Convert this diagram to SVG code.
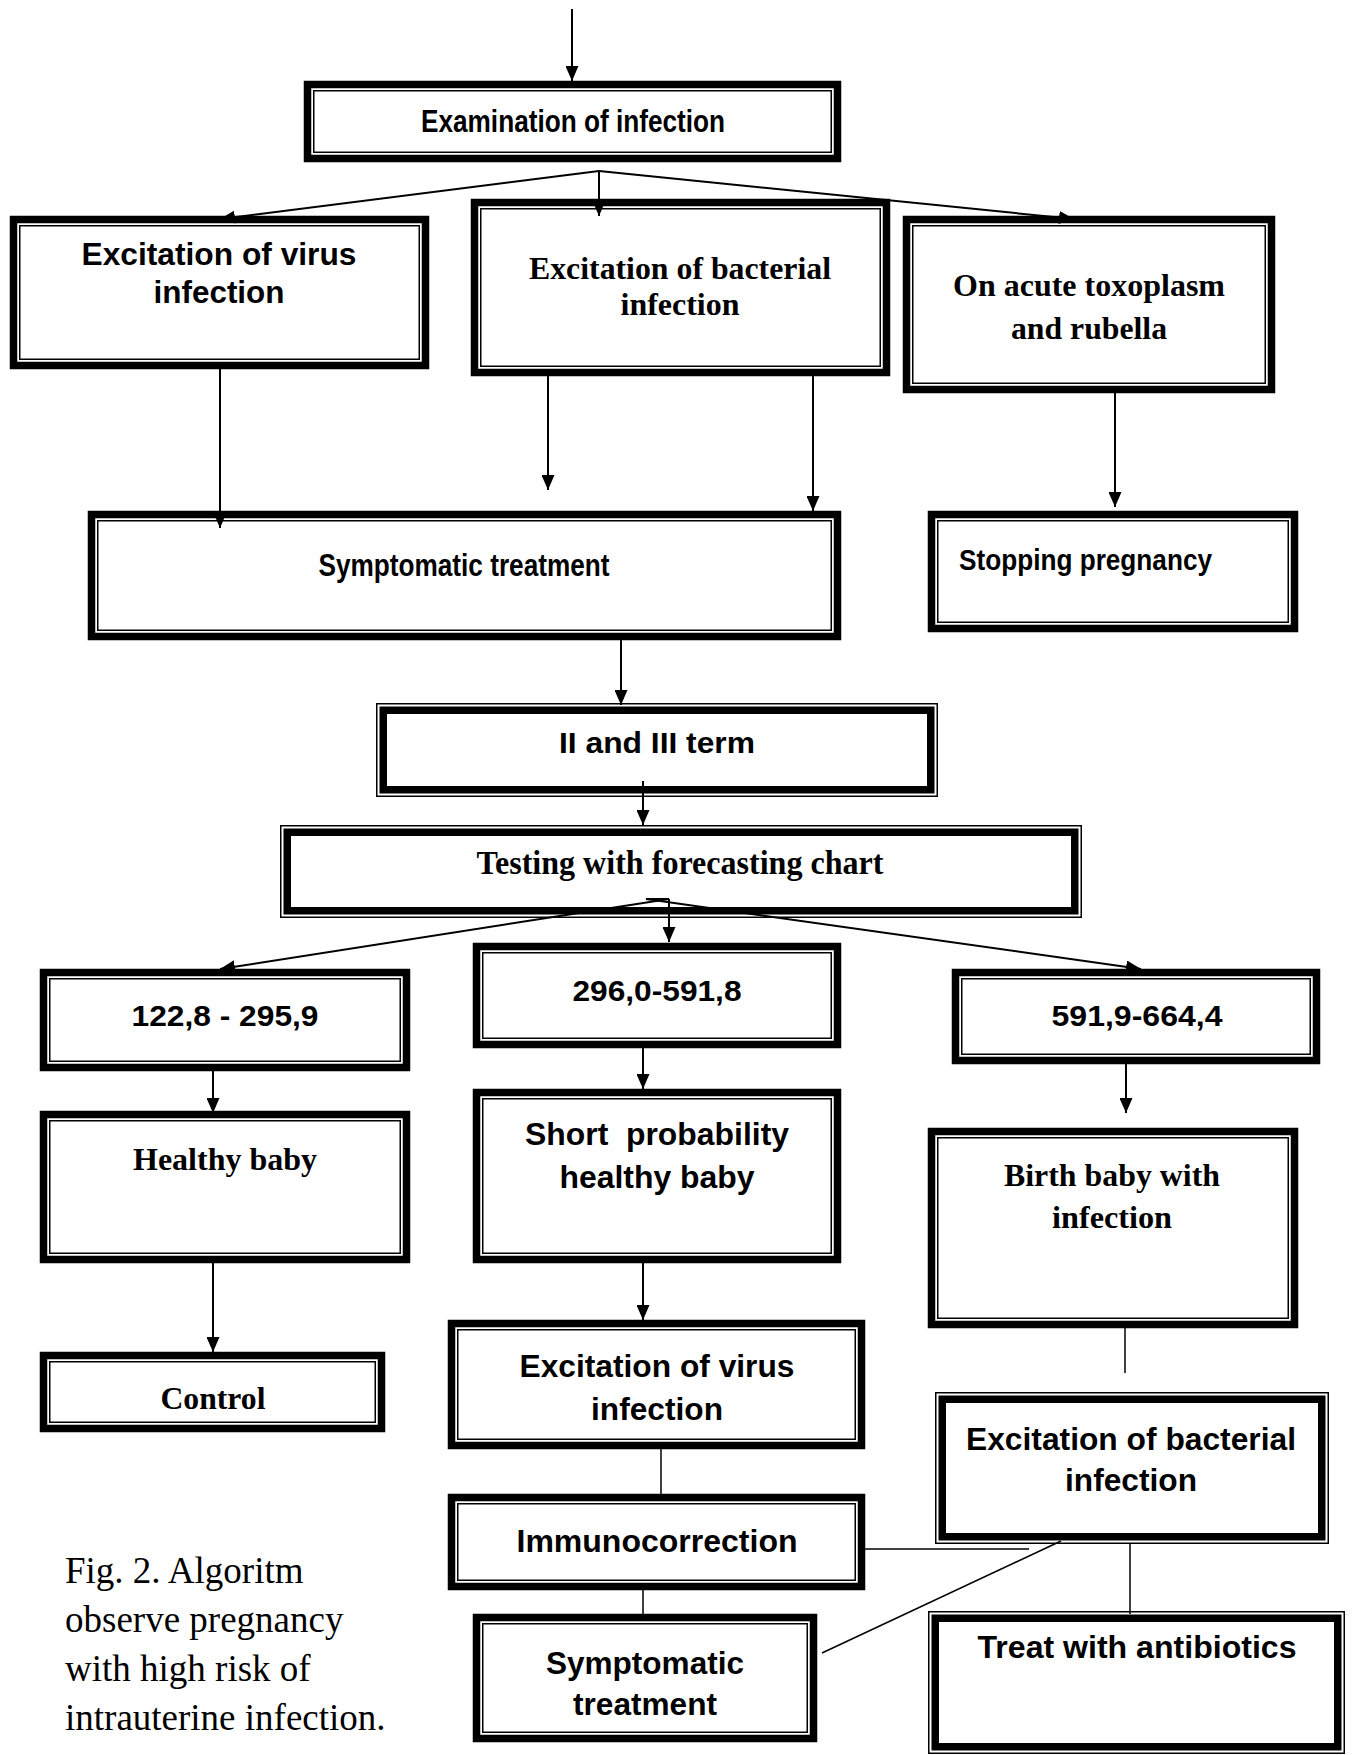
<svg xmlns="http://www.w3.org/2000/svg" width="1354" height="1755" viewBox="0 0 1354 1755">
<style>
.thk{fill:#fff;stroke:#000;stroke-width:7.5}
.thn{fill:none;stroke:#000;stroke-width:1.5}
.thnf{fill:#fff;stroke:#000;stroke-width:1.5}
.thk2{fill:none;stroke:#000;stroke-width:7.5}
.ss{font-family:"Liberation Sans",Arial,sans-serif;font-weight:bold;text-anchor:middle;fill:#000}
.sf{font-family:"Liberation Serif","Times New Roman",serif;font-weight:bold;text-anchor:middle;fill:#000}
.cap{font-family:"Liberation Serif","Times New Roman",serif;font-size:37px;fill:#000}
.arr{stroke:#000;stroke-width:2;fill:none;marker-end:url(#ah)}
.ln{stroke:#000;stroke-width:1.5;fill:none}
</style>
<defs>
<marker id="ah" markerUnits="userSpaceOnUse" markerWidth="15" markerHeight="13" refX="15" refY="6.5" orient="auto">
<path d="M0,0 L15,6.5 L0,13 z" fill="#000"/>
</marker>
</defs>
<rect width="1354" height="1755" fill="#fff"/>

<g id="exam">
<rect class="thk" x="307.5" y="84.5" width="530" height="74"/><rect class="thn" x="313.75" y="90.75" width="517.5" height="61.5"/>
<text class="ss" x="573" y="132" font-size="31" textLength="304" lengthAdjust="spacingAndGlyphs">Examination of infection</text>
</g>
<g id="virus1">
<rect class="thk" x="13.5" y="219.5" width="412" height="146"/><rect class="thn" x="19.75" y="225.75" width="399.5" height="133.5"/>
<text class="ss" x="219" y="265" font-size="31" textLength="275" lengthAdjust="spacingAndGlyphs">Excitation of virus</text>
<text class="ss" x="219" y="303" font-size="31" textLength="131" lengthAdjust="spacingAndGlyphs">infection</text>
</g>
<g id="bact1">
<rect class="thk" x="474.5" y="202.5" width="412" height="170"/><rect class="thn" x="480.75" y="208.75" width="399.5" height="157.5"/>
<text class="sf" x="680" y="279" font-size="31" textLength="302" lengthAdjust="spacingAndGlyphs">Excitation of bacterial</text>
<text class="sf" x="680" y="315" font-size="31" textLength="119" lengthAdjust="spacingAndGlyphs">infection</text>
</g>
<g id="toxo">
<rect class="thk" x="906.5" y="219.5" width="365" height="170"/><rect class="thn" x="912.75" y="225.75" width="352.5" height="157.5"/>
<text class="sf" x="1089" y="296" font-size="31" textLength="272" lengthAdjust="spacingAndGlyphs">On acute toxoplasm</text>
<text class="sf" x="1089" y="339" font-size="31" textLength="156" lengthAdjust="spacingAndGlyphs">and rubella</text>
</g>
<g id="sympt1">
<rect class="thk" x="91.5" y="514.5" width="746" height="122"/><rect class="thn" x="97.75" y="520.75" width="733.5" height="109.5"/>
<text class="ss" x="464" y="576" font-size="31" textLength="291" lengthAdjust="spacingAndGlyphs">Symptomatic treatment</text>
</g>
<g id="stop">
<rect class="thk" x="931.5" y="514.5" width="363" height="114"/><rect class="thn" x="937.75" y="520.75" width="350.5" height="101.5"/>
<text class="ss" x="959" y="570" font-size="30" style="text-anchor:start" textLength="253" lengthAdjust="spacingAndGlyphs">Stopping pregnancy</text>
</g>
<g id="term">
<rect class="thnf" x="376.75" y="703.75" width="560.5" height="92.5"/><rect class="thk2" x="383.25" y="710.25" width="547.5" height="79.5"/>
<text class="ss" x="657" y="753" font-size="30" textLength="196" lengthAdjust="spacingAndGlyphs">II and III term</text>
</g>
<g id="testing">
<rect class="thnf" x="280.75" y="825.75" width="800.5" height="91.5"/><rect class="thk2" x="287.25" y="832.25" width="787.5" height="78.5"/>
<text class="sf" x="680" y="874" font-size="33" textLength="407" lengthAdjust="spacingAndGlyphs">Testing with forecasting chart</text>
</g>
<g id="range1">
<rect class="thk" x="43.5" y="972.5" width="363" height="95"/><rect class="thn" x="49.75" y="978.75" width="350.5" height="82.5"/>
<text class="ss" x="225" y="1026" font-size="30" textLength="187" lengthAdjust="spacingAndGlyphs">122,8 - 295,9</text>
</g>
<g id="range2">
<rect class="thk" x="476.5" y="946.5" width="361" height="98"/><rect class="thn" x="482.75" y="952.75" width="348.5" height="85.5"/>
<text class="ss" x="657" y="1001" font-size="30" textLength="169" lengthAdjust="spacingAndGlyphs">296,0-591,8</text>
</g>
<g id="range3">
<rect class="thk" x="955.5" y="972.5" width="361" height="88"/><rect class="thn" x="961.75" y="978.75" width="348.5" height="75.5"/>
<text class="ss" x="1137" y="1026" font-size="30" textLength="171" lengthAdjust="spacingAndGlyphs">591,9-664,4</text>
</g>
<g id="healthy">
<rect class="thk" x="43.5" y="1114.5" width="363" height="145"/><rect class="thn" x="49.75" y="1120.75" width="350.5" height="132.5"/>
<text class="sf" x="225" y="1170" font-size="31" textLength="184" lengthAdjust="spacingAndGlyphs">Healthy baby</text>
</g>
<g id="short">
<rect class="thk" x="476.5" y="1092.5" width="361" height="167"/><rect class="thn" x="482.75" y="1098.75" width="348.5" height="154.5"/>
<text class="ss" x="657" y="1145" font-size="31" textLength="264" lengthAdjust="spacingAndGlyphs" xml:space="preserve">Short  probability</text>
<text class="ss" x="657" y="1188" font-size="31" textLength="195" lengthAdjust="spacingAndGlyphs">healthy baby</text>
</g>
<g id="birth">
<rect class="thk" x="931.5" y="1131.5" width="363" height="193"/><rect class="thn" x="937.75" y="1137.75" width="350.5" height="180.5"/>
<text class="sf" x="1112" y="1186" font-size="31" textLength="216" lengthAdjust="spacingAndGlyphs">Birth baby with</text>
<text class="sf" x="1112" y="1228" font-size="31" textLength="120" lengthAdjust="spacingAndGlyphs">infection</text>
</g>
<g id="control">
<rect class="thk" x="43.5" y="1355.5" width="338" height="73"/><rect class="thn" x="49.75" y="1361.75" width="325.5" height="60.5"/>
<text class="sf" x="213" y="1409" font-size="31" textLength="105" lengthAdjust="spacingAndGlyphs">Control</text>
</g>
<g id="virus2">
<rect class="thk" x="451.5" y="1323.5" width="410" height="122"/><rect class="thn" x="457.75" y="1329.75" width="397.5" height="109.5"/>
<text class="ss" x="657" y="1377" font-size="31" textLength="275" lengthAdjust="spacingAndGlyphs">Excitation of virus</text>
<text class="ss" x="657" y="1420" font-size="31" textLength="132" lengthAdjust="spacingAndGlyphs">infection</text>
</g>
<g id="bact2">
<rect class="thnf" x="935.75" y="1392.75" width="392.5" height="150.5"/><rect class="thk2" x="942.25" y="1399.25" width="379.5" height="137.5"/>
<text class="ss" x="1131" y="1450" font-size="31" textLength="330" lengthAdjust="spacingAndGlyphs">Excitation of bacterial</text>
<text class="ss" x="1131" y="1491" font-size="31" textLength="132" lengthAdjust="spacingAndGlyphs">infection</text>
</g>
<g id="immuno">
<rect class="thk" x="451.5" y="1497.5" width="410" height="89"/><rect class="thn" x="457.75" y="1503.75" width="397.5" height="76.5"/>
<text class="ss" x="657" y="1552" font-size="31" textLength="281" lengthAdjust="spacingAndGlyphs">Immunocorrection</text>
</g>
<g id="sympt2">
<rect class="thk" x="476.5" y="1617.5" width="337" height="121"/><rect class="thn" x="482.75" y="1623.75" width="324.5" height="108.5"/>
<text class="ss" x="645" y="1674" font-size="31" textLength="198" lengthAdjust="spacingAndGlyphs">Symptomatic</text>
<text class="ss" x="645" y="1715" font-size="31" textLength="144" lengthAdjust="spacingAndGlyphs">treatment</text>
</g>
<g id="treat">
<rect class="thnf" x="928.75" y="1611.75" width="415.5" height="141.5"/><rect class="thk2" x="935.25" y="1618.25" width="402.5" height="128.5"/>
<text class="ss" x="1137" y="1658" font-size="31" textLength="319" lengthAdjust="spacingAndGlyphs">Treat with antibiotics</text>
</g>

<g id="connectors">
<line class="arr" x1="572" y1="9" x2="572" y2="81"/>
<line class="arr" x1="599" y1="171" x2="220" y2="219"/>
<line class="arr" x1="599" y1="171" x2="599" y2="216"/>
<line class="arr" x1="599" y1="171" x2="1074" y2="219"/>
<line class="arr" x1="220" y1="369" x2="220" y2="528"/>
<line class="arr" x1="548" y1="376" x2="548" y2="490"/>
<line class="arr" x1="813" y1="376" x2="813" y2="511"/>
<line class="arr" x1="1115" y1="393" x2="1115" y2="507"/>
<line class="arr" x1="621" y1="640" x2="621" y2="705"/>
<line class="arr" x1="643" y1="781" x2="643" y2="825"/>
<line class="ln" x1="646" y1="899" x2="669" y2="899" style="stroke-width:2"/>
<line class="arr" x1="669" y1="899" x2="220" y2="969"/>
<line class="arr" x1="646" y1="899" x2="1141" y2="969"/>
<line class="arr" x1="669" y1="899" x2="669" y2="942"/>
<line class="arr" x1="213" y1="1071" x2="213" y2="1113"/>
<line class="arr" x1="643" y1="1048" x2="643" y2="1089"/>
<line class="arr" x1="1126" y1="1064" x2="1126" y2="1113"/>
<line class="arr" x1="213" y1="1263" x2="213" y2="1352"/>
<line class="arr" x1="643" y1="1263" x2="643" y2="1320"/>
<line class="ln" x1="1125" y1="1328" x2="1125" y2="1373"/>
<line class="ln" x1="661" y1="1449" x2="661" y2="1494"/>
<line class="ln" x1="865" y1="1549" x2="1029" y2="1549"/>
<line class="ln" x1="1061" y1="1541" x2="822" y2="1653"/>
<line class="ln" x1="1130" y1="1544" x2="1130" y2="1614"/>
<line class="ln" x1="643" y1="1590" x2="643" y2="1614"/>
</g>

<g id="caption">
<text class="cap" x="65" y="1583">Fig. 2. Algoritm</text>
<text class="cap" x="65" y="1632">observe pregnancy</text>
<text class="cap" x="65" y="1681">with high risk of</text>
<text class="cap" x="65" y="1730">intrauterine infection.</text>
</g>
</svg>
